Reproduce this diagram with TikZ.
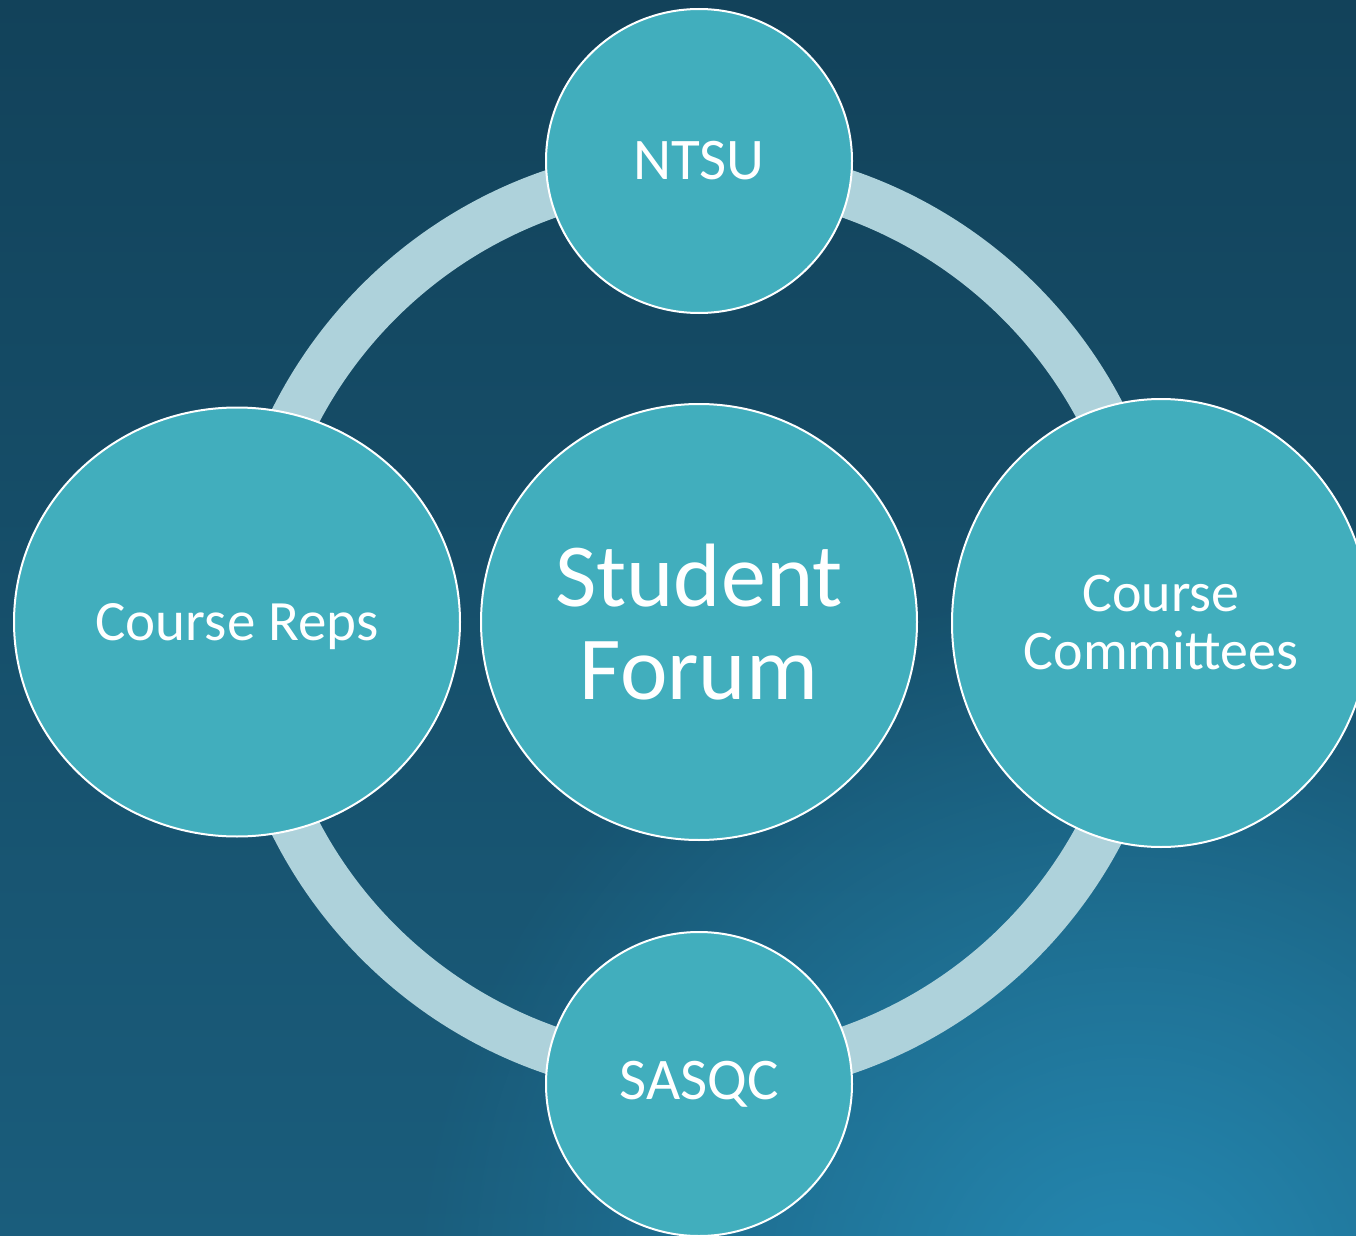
\documentclass[tikz,border=0pt]{standalone}
\usepackage{fontspec}
\setmainfont{Carlito}
\usetikzlibrary{shapes.geometric,fadings}

\definecolor{bgtop}{HTML}{12425A}
\definecolor{bgbottom}{HTML}{1A5D7C}
\definecolor{bgglow}{HTML}{2589B2}
\definecolor{ringcol}{HTML}{AED2DB}
\definecolor{bubblecol}{HTML}{41AEBD}

\tikzfading[name=glowfade, inner color=transparent!0, outer color=transparent!100]

\tikzstyle{bubble}=[ellipse, draw=white, line width=1pt, fill=bubblecol, text=white, align=center, inner sep=0pt]
\tikzstyle{small}=[bubble, minimum width=153pt, minimum height=152pt, font=\fontsize{29.5}{29.5}\selectfont]
\tikzstyle{link}=[draw=ringcol, line width=24pt]

\begin{document}
\begin{tikzpicture}[x=0.5pt, y=-0.5pt]
\useasboundingbox (0,0) rectangle (1356,1236);
\clip (0,0) rectangle (1356,1236);

% background
\shade[top color=bgtop, bottom color=bgbottom] (0,0) rectangle (1356,1236);
\fill[bgglow, path fading=glowfade] (1130,1300) circle (720);

\coordinate (hub) at (699,622);
\draw[link] (hub) circle (453);

\node[bubble, minimum width=218pt, minimum height=218pt, font=\fontsize{45}{46.5}\selectfont](forum) at (699,622) {Student\\Forum};
\node[small](ntsu) at (699,161) {NTSU};
\node[small](sasqc) at (699,1084) {SASQC};
\node[bubble, minimum width=223pt, minimum height=214.5pt, font=\fontsize{28.5}{28.5}\selectfont, text depth=0pt](reps) at (237,622) {Course Reps};
\node[bubble, minimum width=209pt, minimum height=224pt, font=\fontsize{28}{29}\selectfont](committees) at (1161,623) {Course\\Committees};
\end{tikzpicture}
\end{document}
